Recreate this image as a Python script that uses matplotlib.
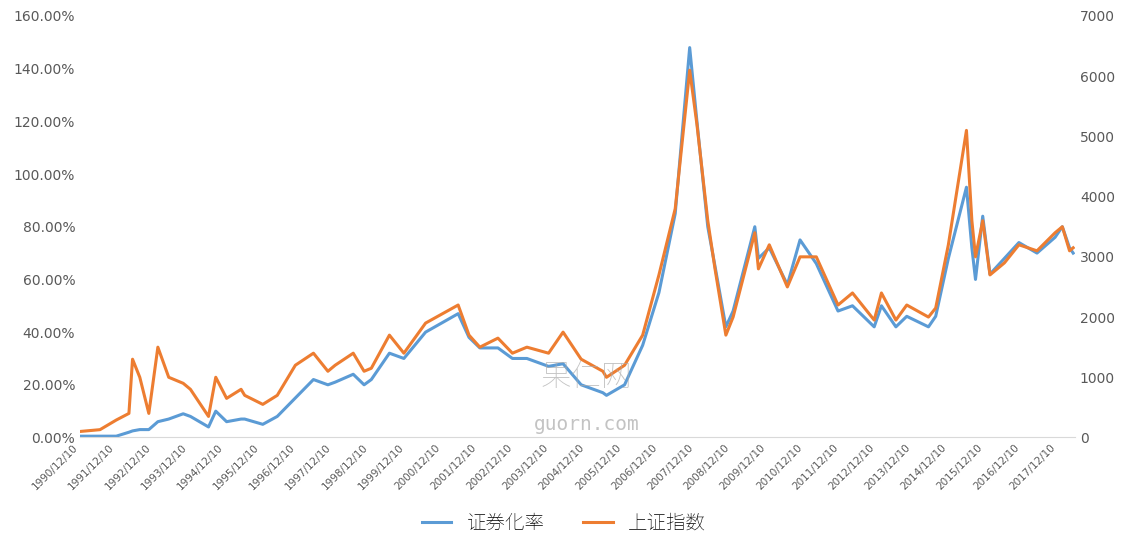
import matplotlib
matplotlib.use("Agg")
import matplotlib.pyplot as plt
from matplotlib import font_manager
import numpy as np

cands = [f for f in font_manager.fontManager.ttflist if "sanscjk" in f.fname.lower().replace("-", "").replace("_", "")]
cands.sort(key=lambda f: (0 if "SC" in f.name else 1, f.weight if isinstance(f.weight, int) else 400))
if cands:
    cjk_fp = font_manager.FontProperties(fname=cands[0].fname)
else:
    cjk_fp = font_manager.FontProperties(family="Noto Sans CJK SC")
cjk_fp.set_size(14)

years = [1990.95,1991.5,1991.95,1992.3,1992.4,1992.6,1992.85,1993.1,1993.4,1993.8,1994.0,1994.5,1994.7,
         1995.0,1995.4,1995.5,1996.0,1996.4,1996.9,1997.4,1997.8,1998.0,1998.5,1998.8,1999.0,1999.5,1999.9,
         2000.5,2001.4,2001.7,2002.0,2002.5,2002.9,2003.3,2003.9,2004.3,2004.8,2005.4,2005.5,2006.0,2006.5,
         2006.95,2007.4,2007.8,2008.0,2008.3,2008.5,2008.8,2009.0,2009.6,2009.7,2010.0,2010.5,2010.85,2011.3,
         2011.9,2012.3,2012.9,2013.1,2013.5,2013.8,2014.4,2014.6,2014.95,2015.45,2015.6,2015.7,2015.9,2016.1,
         2016.5,2016.9,2017.4,2017.9,2018.1,2018.3,2018.4]
index_vals = [100,130,290,400,1300,1000,400,1500,1000,900,800,350,1000,
              650,800,700,550,700,1200,1400,1100,1200,1400,1100,1150,1700,1400,
              1900,2200,1700,1500,1650,1400,1500,1400,1750,1300,1100,1000,1200,1700,
              2700,3800,6100,5200,3600,2800,1700,2000,3400,2800,3200,2500,3000,3000,
              2200,2400,1950,2400,1950,2200,2000,2150,3200,5100,3600,3000,3600,2700,
              2900,3200,3100,3400,3500,3100,3150]
ratio_vals = [0.5,0.5,0.5,2,2.5,3,3,6,7,9,8,4,10,
              6,7,7,5,8,15,22,20,21,24,20,22,32,30,
              40,47,38,34,34,30,30,27,28,20,17,16,20,35,
              55,85,148,120,80,65,42,48,80,68,72,58,75,66,
              48,50,42,50,42,46,42,46,68,95,72,60,84,62,
              68,74,70,76,80,72,70]

fig = plt.figure(figsize=(11.28,5.51), dpi=100)
ax = fig.add_axes([0.071,0.206,0.882,0.765])
ax2 = ax.twinx()
ax.plot(years, ratio_vals, color="#5B9BD5", lw=2.2, label="证券化率")
ax2.plot(years, index_vals, color="#ED7D31", lw=2.2, label="上证指数")
ax.set_ylim(0,160); ax2.set_ylim(0,7000)
ax.set_xlim(1990.95, 2018.45)
ax.set_yticks(np.arange(0,161,20))
ax.set_yticklabels([f"{v:.2f}%" for v in range(0,161,20)])
ax2.set_yticks(range(0,7001,1000))
ax.set_xticks([y+0.95 for y in range(1990,2018)])
ax.set_xticklabels([f"{y}/12/10" for y in range(1990,2018)], rotation=45, ha="right", fontsize=7.5, color="#595959")
for a in (ax, ax2):
    for s in a.spines.values(): s.set_visible(False)
    a.tick_params(axis="y", length=0, labelsize=10, colors="#595959")
ax.spines["bottom"].set_visible(True); ax.spines["bottom"].set_color("#d9d9d9")
ax.tick_params(axis="x", length=0)
wm = cjk_fp.copy(); wm.set_size(22)
fig.text(0.52,0.3,"果仁网",fontproperties=wm,color="#aaaaaa",ha="center",alpha=0.7)
fig.text(0.52,0.22,"guorn.com",fontsize=14,color="#aaaaaa",ha="center",alpha=0.7,family="DejaVu Sans Mono")
h1,l1 = ax.get_legend_handles_labels(); h2,l2 = ax2.get_legend_handles_labels()
fig.legend(h1+h2, l1+l2, loc="lower center", ncol=2, frameon=False, prop=cjk_fp, bbox_to_anchor=(0.5,0.0), handlelength=1.5)
fig.savefig("out.png")
